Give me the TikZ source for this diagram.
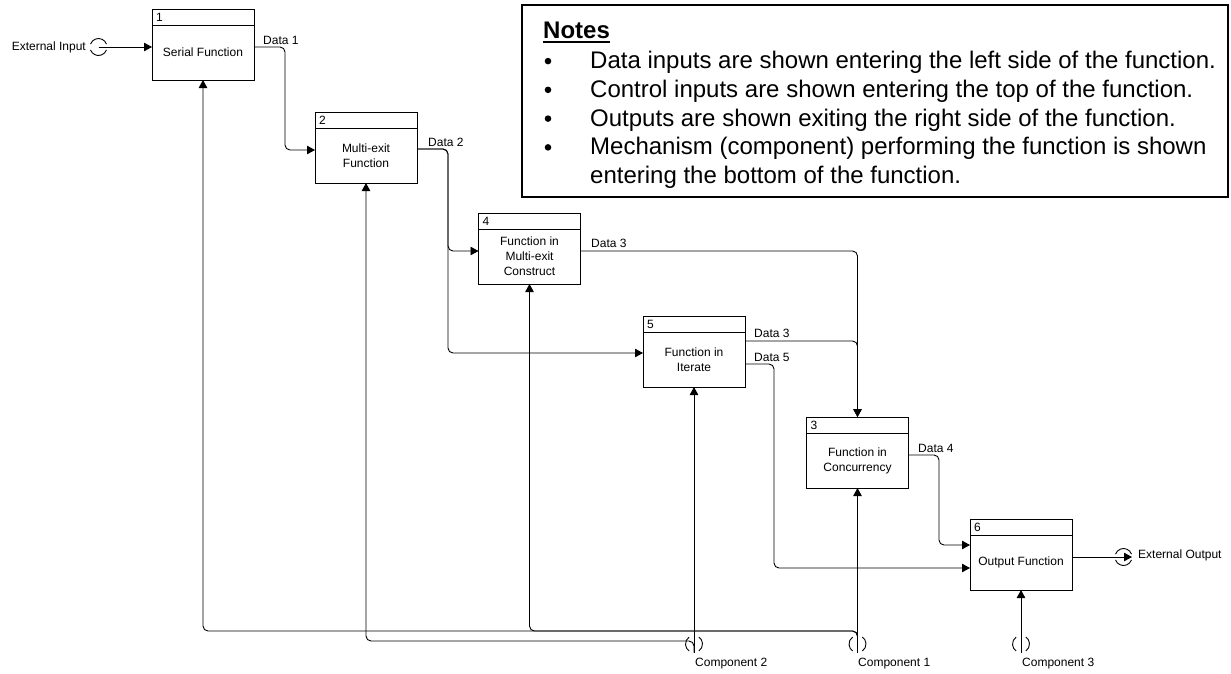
\documentclass[tikz,border=0pt]{standalone}
\usepackage{fontspec}
\setmainfont{Liberation Sans}
\usetikzlibrary{arrows.meta,calc}

\tikzset{
  fnbox/.style={draw, line width=0.9pt, minimum width=102pt, minimum height=71pt, inner sep=0pt, outer sep=0pt},
  numtxt/.style={font=\fontsize{12}{14}\selectfont, inner sep=0pt, anchor=west},
  bodytxt/.style={font=\fontsize{12}{15}\selectfont, align=center, inner sep=0pt},
  lbl/.style={font=\fontsize{12}{14}\selectfont, inner sep=0pt},
  flow/.style={draw, line width=0.9pt, rounded corners=5pt, -{Triangle[length=8pt,width=8.5pt]}},
  port/.style={circle, minimum size=17pt, inner sep=0pt, outer sep=0pt},
  notetxt/.style={font=\fontsize{24}{28.75}\selectfont, inner sep=0pt, anchor=base west},
  bulletdot/.style={circle, fill, minimum size=6.6pt, inner sep=0pt},
}

% function box: name, centre, number, text
\newcommand\funcbox[4]{%
  \node[fnbox] (#1) at (#2) {};
  \draw[line width=0.9pt] ([yshift=-16pt]#1.north west) -- ([yshift=-16pt]#1.north east);
  \node[numtxt] (#1num) at ([xshift=4pt,yshift=-8pt]#1.north west) {#3};
  \node[bodytxt] (#1txt) at ([yshift=-8pt]#1.center) {#4};
}
% external port symbol (open at left and right)
\newcommand\hport[2]{%
  \node[port] (#1) at (#2) {};
  \draw[line width=0.9pt] (#1.20) arc[start angle=20,end angle=160,radius=8.5pt];
  \draw[line width=0.9pt] (#1.200) arc[start angle=200,end angle=340,radius=8.5pt];
}
% component symbol (open at top and bottom)
\newcommand\vport[2]{%
  \node[port] (#1) at (#2) {};
  \draw[line width=0.9pt] (#1.125) arc[start angle=125,end angle=235,radius=8.5pt];
  \draw[line width=0.9pt] (#1.-55) arc[start angle=-55,end angle=55,radius=8.5pt];
}

\begin{document}
\begin{tikzpicture}[x=1pt,y=-1pt]
\fill[white] (0,0) rectangle (1231,673);
\useasboundingbox (0,0) rectangle (1231,673);

% notes panel
\node[draw, line width=2pt, minimum width=706pt, minimum height=192pt, inner sep=0pt, outer sep=0pt, anchor=north west] (notes) at (522,5) {};
\node[font=\bfseries\fontsize{24}{28}\selectfont, inner sep=0pt, anchor=west] (ntitle) at (543,30) {Notes};
\draw[line width=2pt] ([yshift=-3pt]ntitle.south west) -- ([yshift=-3pt]ntitle.south east);
\node[bulletdot] (nb1) at (548,61.1) {};
\node[bulletdot] (nb2) at (548,89.85) {};
\node[bulletdot] (nb3) at (548,118.6) {};
\node[bulletdot] (nb4) at (548,147.35) {};
\node[notetxt] (nl1) at (590,68.6) {Data inputs are shown entering the left side of the function.};
\node[notetxt] (nl2) at (590,97.35) {Control inputs are shown entering the top of the function.};
\node[notetxt] (nl3) at (590,126.1) {Outputs are shown exiting the right side of the function.};
\node[notetxt] (nl4) at (590,154.85) {Mechanism (component) performing the function is shown};
\node[notetxt] (nl5) at (590,183.6) {entering the bottom of the function.};

% functions
\funcbox{b1}{203,44.5}{1}{Serial Function}
\funcbox{b2}{366,147.5}{2}{Multi-exit\\Function}
\funcbox{b4}{529.5,248.5}{4}{Function in\\Multi-exit\\Construct}
\funcbox{b5}{694,351.5}{5}{Function in\\Iterate}
\funcbox{b3}{857.5,452.5}{3}{Function in\\Concurrency}
\funcbox{b6}{1021,554.5}{6}{Output Function}

% external ports and components
\hport{ein}{98.5,47}
\hport{eout}{1123.5,557}
\vport{c2}{694,644}
\vport{c1}{857.5,644}
\vport{c3}{1021,644}
\node[lbl, anchor=east] (einl) at (86,47) {External Input};
\node[lbl, anchor=west] (eoutl) at (1138,555) {External Output};
\node[lbl, anchor=west] (c2l) at (695,664) {Component 2};
\node[lbl, anchor=west] (c1l) at (858,664) {Component 1};
\node[lbl, anchor=west] (c3l) at (1022,664) {Component 3};

\coordinate (bus1) at (0,631);
\coordinate (bus2) at (0,641);

% data flows
\draw[flow] (ein.center) -- (b1.west |- ein.center);
\draw[flow] ([yshift=-2.5pt]b1.east) -- ++(31,0) |- ([yshift=-2.5pt]b2.west);
\draw[flow] ([yshift=-1.5pt]b2.east) -- ++(31,0) |- ([yshift=-2.5pt]b4.west);
\draw[flow] ([yshift=-1.5pt]b2.east) -- ++(31,0) |- ([yshift=-1.5pt]b5.west);
\draw[flow] ([yshift=-2.5pt]b4.east) -| (b3.north);
\draw[flow] ([yshift=10.5pt]b5.east) -| (b3.north);
\draw[flow] ([yshift=-12.5pt]b5.east) -- ++(29,0) |- ([yshift=-13.5pt]b6.west);
\draw[flow] ([yshift=-2.5pt]b3.east) -- ++(30.5,0) |- ([yshift=9.5pt]b6.west);
\draw[flow] ([yshift=-2.5pt]b6.east) -- (eout.east);

% flow labels
\node[lbl, anchor=west] (d1) at (263,40) {Data 1};
\node[lbl, anchor=west] (d2) at (428,142) {Data 2};
\node[lbl, anchor=west] (d3a) at (591,243) {Data 3};
\node[lbl, anchor=west] (d3b) at (754,333) {Data 3};
\node[lbl, anchor=west] (d5) at (754,357) {Data 5};
\node[lbl, anchor=west] (d4) at (918,448) {Data 4};

% mechanisms
\draw[flow] (c1.south) -- (b3.south);
\draw[flow] (c1.south) |- (b1.south |- bus1) -- (b1.south);
\draw[flow] (c1.south) |- (b4.south |- bus1) -- (b4.south);
\draw[flow] (c2.south) -- (b5.south);
\draw[flow] (c2.south) |- (b2.south |- bus2) -- (b2.south);
\draw[flow] (c3.south) -- (b6.south);
\end{tikzpicture}
\end{document}
